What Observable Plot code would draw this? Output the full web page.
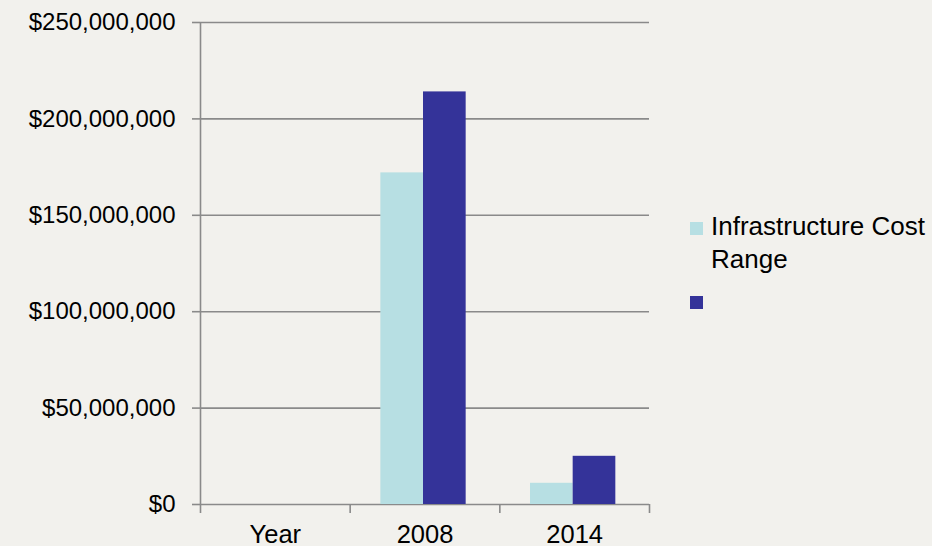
<!DOCTYPE html>
<html>
<head>
<meta charset="utf-8">
<script src="https://cdn.jsdelivr.net/npm/d3@7"></script>
<script src="https://cdn.jsdelivr.net/npm/@observablehq/plot@0.6"></script>
<style>
  html, body { margin: 0; padding: 0; background: #f2f1ed; overflow: hidden; }
  #wrap { position: relative; width: 932px; height: 546px; font-family: "Liberation Sans", Arial, sans-serif; }
  #legend { position: absolute; left: 690px; top: 210px; color: #000; font-size: 26px; line-height: 33px; }
  .item { position: relative; padding-left: 21px; }
  .sw { position: absolute; left: 0; width: 13px; height: 13px; }
</style>
</head>
<body>
<div id="wrap"><div id="chart"></div><div id="legend"></div></div>
<script>
const categories = ["Year", "2008", "2014"];
const seriesNames = ["Infrastructure Cost Range", ""];
const costLow = [null, 172000000, 11000000];
const costHigh = [null, 214000000, 25000000];
const yTicks = [0, 50000000, 100000000, 150000000, 200000000, 250000000];
const seriesColors = ["#b7dfe3", "#343399"];

const rows = categories.flatMap((c, i) => [
  {cat: c, i, k: 0, series: seriesNames[0], value: costLow[i]},
  {cat: c, i, k: 1, series: seriesNames[1], value: costHigh[i]}
]).filter(d => d.value != null);

const center = 0.49, bw = 0.285;
const gridColor = "#8a8a8a";

const chart = Plot.plot({
  width: 932, height: 546,
  marginLeft: 200, marginRight: 283, marginTop: 22, marginBottom: 42,
  style: {background: "transparent", fontFamily: "'Liberation Sans', Arial, sans-serif", color: "#000", overflow: "visible"},
  x: {domain: [0, categories.length], axis: null},
  y: {domain: [0, 250000000], axis: null},
  color: {domain: seriesNames, range: seriesColors},
  marks: [
    Plot.gridY(yTicks, {stroke: gridColor, strokeOpacity: 1, strokeWidth: 1.6}),
    Plot.ruleX([0], {y1: 0, y2: 250000000, stroke: gridColor, strokeWidth: 1.6}),
    Plot.rectY(rows, {
      x1: d => d.i + center - bw + d.k * bw,
      x2: d => d.i + center + d.k * bw,
      y1: 0, y2: "value", fill: "series"
    }),
    Plot.axisY({ticks: yTicks, tickFormat: d => "$" + d3.format(",")(d), tickSize: 8, tickPadding: 17,
      fontSize: 24, stroke: gridColor, strokeWidth: 1.6, fill: "#000", label: null}),
    Plot.axisX({ticks: d3.range(categories.length + 1), tickFormat: () => "", tickSize: 9,
      stroke: gridColor, strokeWidth: 1.6, label: null}),
    Plot.axisX({ticks: categories.map((c, i) => i + 0.5), tickFormat: d => categories[Math.floor(d)],
      tickSize: 0, tickPadding: 20, fontSize: 25.5, fill: "#000", label: null})
  ]
});
document.getElementById("chart").append(chart);

const legend = document.getElementById("legend");
legend.innerHTML =
  `<div class="item"><span class="sw" style="top:12px;background:${seriesColors[0]}"></span>Infrastructure Cost<br>Range</div>` +
  `<div class="item" style="margin-top:8px;height:33px"><span class="sw" style="top:12px;background:${seriesColors[1]}"></span>${seriesNames[1]}</div>`;
</script>
</body>
</html>
